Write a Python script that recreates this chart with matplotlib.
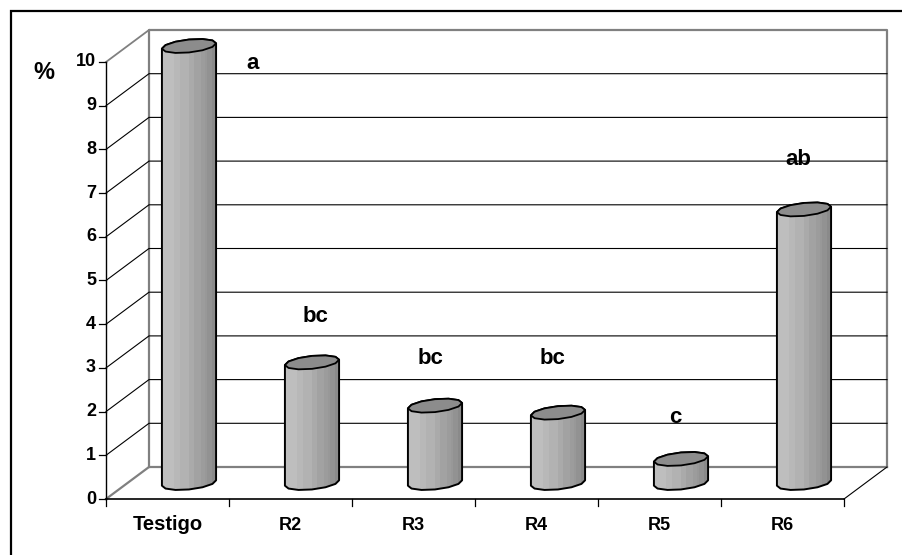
import numpy as np
import matplotlib
matplotlib.use('Agg')
import matplotlib.pyplot as plt
from matplotlib.patches import Polygon, Rectangle

plt.rcParams['font.family'] = ['Liberation Sans', 'DejaVu Sans']

# data
categories = ['Testigo', 'R2', 'R3', 'R4', 'R5', 'R6']
values = [10.0, 2.76, 1.77, 1.61, 0.55, 6.26]
letters = ['a', 'bc', 'bc', 'bc', 'c', 'ab']
letter_x = [1.195, 1.70, 2.64, 3.63, 4.63, 5.63]
letter_y = [9.84, 4.04, 3.09, 3.09, 1.75, 7.65]
y_ticks = list(range(0, 11))

# shading bands of the cylinder, left to right (start as fraction of width, colour)
band_start = [0.0, 0.23, 0.34, 0.50, 0.60, 0.72, 0.80, 0.84, 0.93]
band_color = ['#bebebe', '#b8b8b8', '#b2b2b2', '#aaaaaa', '#a2a2a2', '#9c9c9c',
              '#989898', '#929292', '#8a8a8a']

W, H = 903, 555
X0, Y0 = 106, 499          # pixel of the axis origin
UX, UY = 123.0, 43.7       # pixels per category / per unit
DX, DY = 43 / UX, 32 / UY  # depth of the box

fig = plt.figure(figsize=(W / 100, H / 100), dpi=100)
ax = fig.add_axes([0, 0, 1, 1])
ax.set_xlim(-X0 / UX, (W - X0) / UX)
ax.set_ylim(-(H - Y0) / UY, Y0 / UY)
ax.axis('off')

px = 1 / UX
py = 1 / UY
n = len(categories)
top = y_ticks[-1]

# outer frame, runs off the right and bottom of the picture
ax.add_patch(Rectangle((11 * px - X0 / UX, -(H - Y0 + 20) * py), (W + 20) * px,
                       (H + 20 - 11) * py, fill=False, ec='black', lw=1.6, zorder=1))

# walls
grey = '#808080'
ax.plot([DX, DX, n + DX, n + DX], [DY, top + DY, top + DY, DY], color=grey, lw=1.6, zorder=2)
ax.plot([0, DX, n + DX], [0, DY, DY], color=grey, lw=1.6, zorder=2)
ax.plot([n + DX, n], [DY, 0], color='black', lw=0.8, zorder=2)
ax.plot([0, DX], [top, top + DY], color=grey, lw=1.3, zorder=2)

# gridlines
for v in y_ticks[1:-1]:
    ax.plot([0, DX, n + DX], [v, v + DY, v + DY], color='black', lw=0.8, zorder=2)

# front axes and ticks
ax.plot([0, 0], [0, top], color='black', lw=1.0, zorder=3)
ax.plot([0, n], [0, 0], color='black', lw=1.2, zorder=3)
for v in y_ticks:
    ax.plot([-7 * px, 0], [v, v], color='black', lw=0.9, zorder=3)
    ax.text(-10 * px, v, str(v), ha='right', va='center', fontsize=13, fontweight='bold')
for i in range(n + 1):
    ax.plot([i, i], [0, -7 * py], color='black', lw=0.9, zorder=3)


def ring(cx, cy, t):
    # slanted ellipse of the cylinder end
    xs = cx + (25 * np.cos(t) + 10.4 * np.sin(t)) * px
    ys = cy + 7 * np.sin(t) * py
    return np.column_stack([xs, ys])


t0 = np.arctan(10.4 / 25)
upper_t = np.linspace(t0, t0 + np.pi, 7)
lower_t = np.linspace(t0 + np.pi, t0 + 2 * np.pi, 7)
full_t = np.concatenate([upper_t, lower_t[1:-1]])

# cylinders
for i, v in enumerate(values):
    cx = i + 0.5 + DX / 2
    cy = DY / 2
    body = np.vstack([ring(cx, cy + v, upper_t), ring(cx, cy, lower_t)])
    clip = Polygon(body, closed=True, fc='none', ec='none', zorder=4)
    ax.add_patch(clip)
    xl, xr = cx - 27 * px, cx + 27 * px
    for s, c in zip(band_start, band_color):
        x_s = xl + s * (xr - xl)
        r = ax.add_patch(Rectangle((x_s, -1), xr - x_s, top + 3, fc=c, ec='none', zorder=4))
        r.set_clip_path(clip)
    ax.add_patch(Polygon(body, closed=True, fc='none', ec='black', lw=1.4, joinstyle='round', zorder=5))
    ax.add_patch(Polygon(ring(cx, cy + v, full_t), closed=True, fc='#8c8c8c', ec='black', lw=1.3,
                         joinstyle='round', zorder=6))
    ax.text(i + 0.5, -31 * py, categories[i], ha='center', va='baseline',
            fontsize=14.5 if i == 0 else 13, fontweight='bold')
    ax.text(letter_x[i], letter_y[i], letters[i], ha='center', va='baseline', fontsize=16,
            fontweight='bold', zorder=7)

ax.text((44 - X0) * px, (Y0 - 73) * py, '%', ha='center', va='center', fontsize=17,
        fontweight='bold')

fig.savefig('out.png', dpi=100, facecolor='white')
